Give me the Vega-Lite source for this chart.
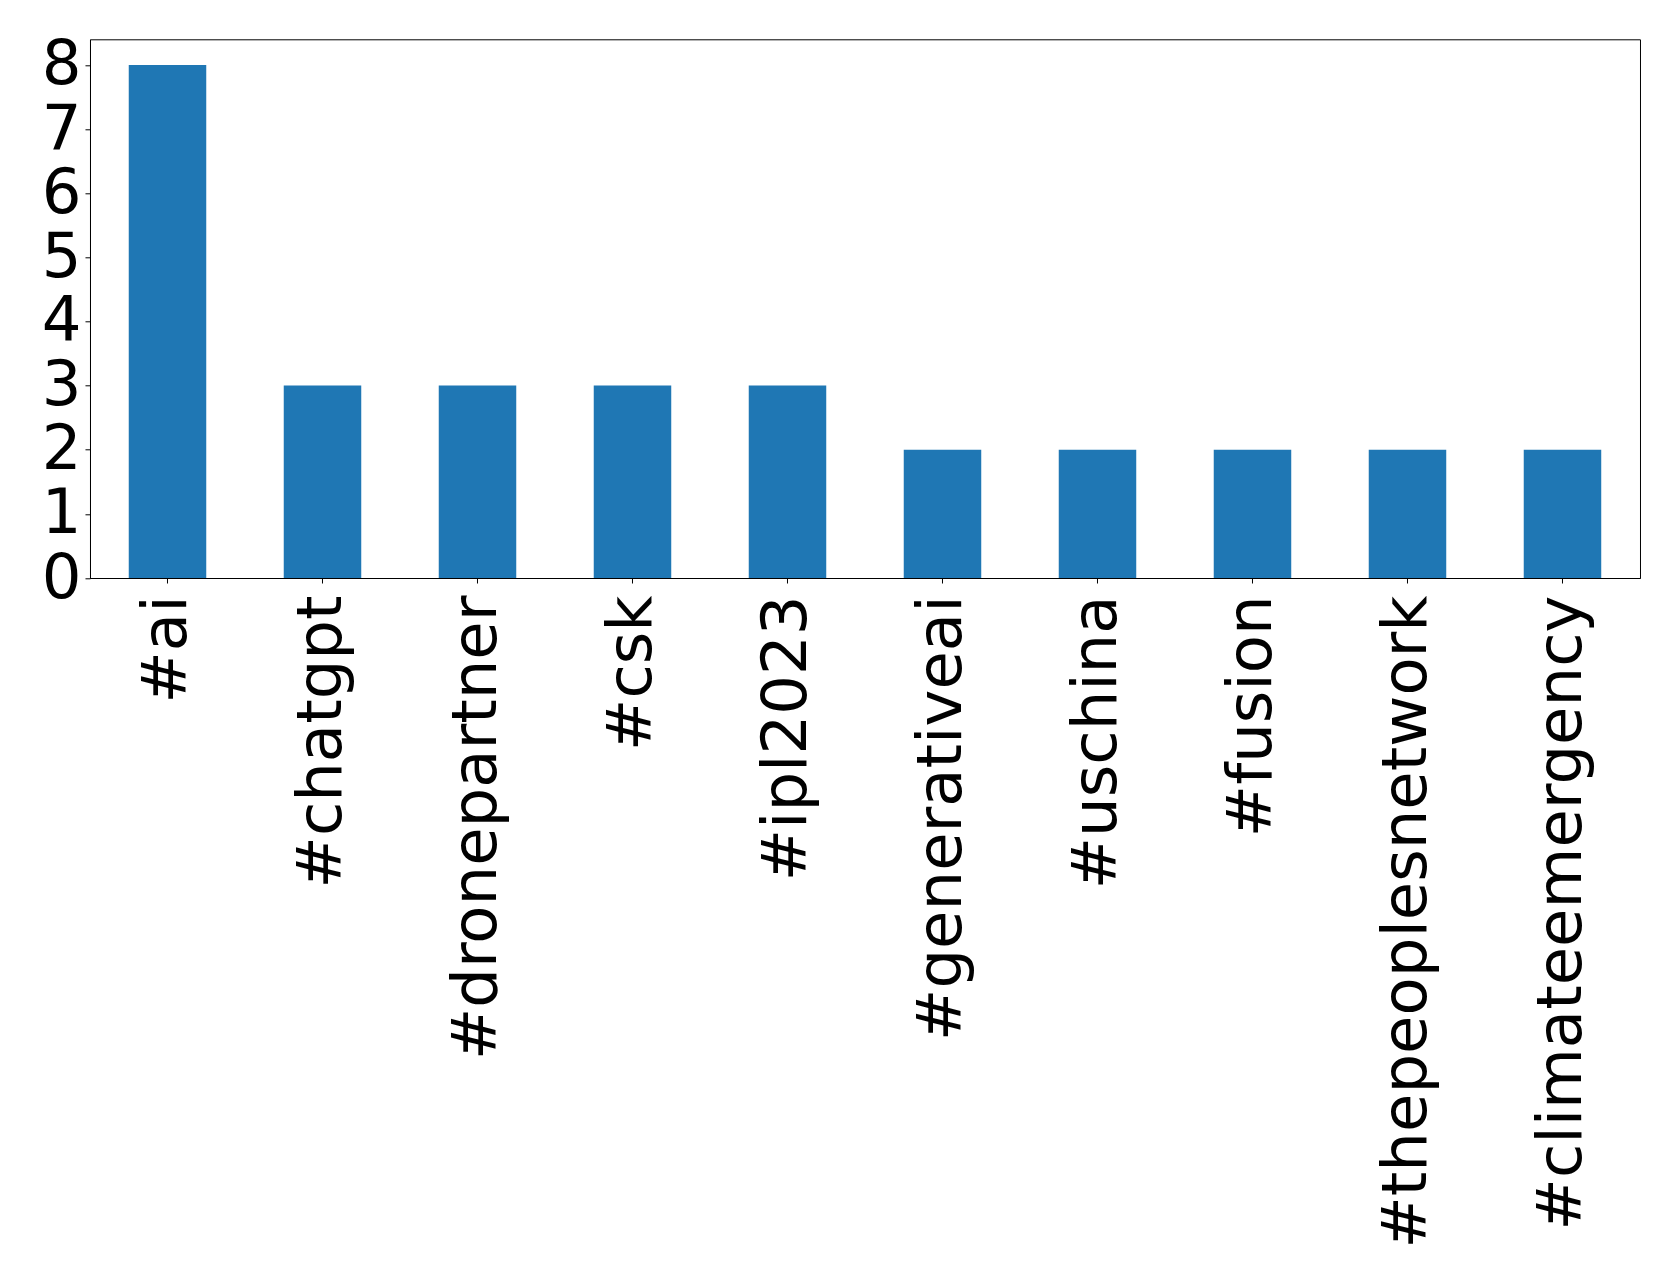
{
  "$schema": "https://vega.github.io/schema/vega-lite/v6.json",
  "autosize": {"type": "none"},
  "padding": {"left": 90, "top": 39.3, "right": 38.7, "bottom": 703},
  "width": 1550,
  "height": 538.7,
  "background": "white",
  "data": {
    "values": [
      {"tag": "#ai", "count": 8},
      {"tag": "#chatgpt", "count": 3},
      {"tag": "#dronepartner", "count": 3},
      {"tag": "#csk", "count": 3},
      {"tag": "#ipl2023", "count": 3},
      {"tag": "#generativeai", "count": 2},
      {"tag": "#uschina", "count": 2},
      {"tag": "#fusion", "count": 2},
      {"tag": "#thepeoplesnetwork", "count": 2},
      {"tag": "#climateemergency", "count": 2}
    ]
  },
  "mark": {"type": "bar", "color": "#1f77b4"},
  "encoding": {
    "x": {
      "field": "tag",
      "type": "nominal",
      "sort": null,
      "scale": {"paddingInner": 0.5, "paddingOuter": 0.25},
      "axis": {
        "title": null,
        "labelAngle": -90,
        "labelFont": "DejaVu Sans",
        "labelFontSize": 62.5,
        "labelColor": "black",
        "labelPadding": 12,
        "labelOverlap": false,
        "labelBound": false,
        "labelLimit": 0,
        "tickSize": 5,
        "tickColor": "black",
        "tickWidth": 1,
        "domainColor": "black",
        "domainWidth": 1
      }
    },
    "y": {
      "field": "count",
      "type": "quantitative",
      "scale": {"domain": [0, 8.4], "nice": false, "zero": true},
      "axis": {
        "title": null,
        "values": [0, 1, 2, 3, 4, 5, 6, 7, 8],
        "grid": false,
        "labelFont": "DejaVu Sans",
        "labelFontSize": 62.5,
        "labelColor": "black",
        "labelPadding": 4,
        "labelOverlap": false,
        "labelFlush": false,
        "labelBound": false,
        "tickSize": 5,
        "tickColor": "black",
        "tickWidth": 1,
        "domainColor": "black",
        "domainWidth": 1
      }
    }
  },
  "config": {
    "view": {"stroke": "black", "strokeWidth": 1}
  }
}
